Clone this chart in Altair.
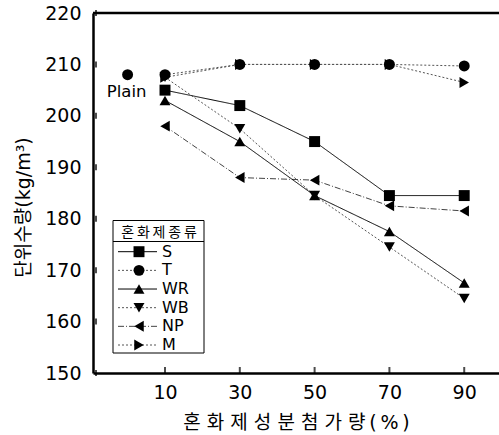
import altair as alt
import pandas as pd

x_vals = [10, 30, 50, 70, 90]
series_names = ["S", "T", "WR", "WB", "NP", "M"]
S = [205, 202, 195, 184.5, 184.5]
T = [208, 210, 210, 210, 209.7]
WR = [203, 195, 184.5, 177.5, 167.5]
WB = [207.5, 197.5, 184.5, 174.5, 164.5]
NP = [198, 188, 187.5, 182.5, 181.5]
M = [207.5, 210, 210, 210, 206.5]
plain_x = [0]
plain_y = [208]
plain_label = ["Plain"]
y_ticks = [150, 160, 170, 180, 190, 200, 210, 220]
x_ticks = [10, 30, 50, 70, 90]
legend_title = ["\u2009".join("혼화제종류")]

values = {"S": S, "T": T, "WR": WR, "WB": WB, "NP": NP, "M": M}
rows = []
for name in ["M", "NP", "WB", "WR", "S", "T"]:
    for xv, yv in zip(x_vals, values[name]):
        rows.append({"x": xv, "y": yv, "series": name})
df = pd.DataFrame(rows)
plain_df = pd.DataFrame({"x": plain_x, "y": plain_y, "label": plain_label})
leg_df = pd.DataFrame({"series": series_names, "row": list(range(len(series_names)))})
title_df = pd.DataFrame({"t": legend_title})

XDOM = [-9.25, 99.3]
YDOM = [150, 220]
xs = alt.Scale(domain=XDOM, nice=False, zero=False)
ys = alt.Scale(domain=YDOM, nice=False, zero=False)
row_scale = alt.Scale(domain=[0, 5], range=[238.7, 332], nice=False, zero=False)

NUM_FONT = "DejaVu Sans"
KR_FONT = "DejaVu Sans, Noto Sans CJK KR"

shape_scale = alt.Scale(
    domain=series_names,
    range=["square", "circle", "triangle-up", "triangle-down", "triangle-left", "triangle-right"],
)
dash_scale = alt.Scale(
    domain=series_names,
    range=[[1, 0], [2, 2], [1, 0], [2, 2], [6, 2, 1, 2], [2, 2]],
)
color_scale = alt.Scale(domain=series_names, range=["#000", "#555", "#000", "#555", "#444", "#555"])

TS = "\u2009"
x_title = " ".join("혼화제") + "  " + " ".join("성분") + "  " + " ".join("첨가량") + TS + TS.join("(%)")

x_axis = alt.Axis(
    values=x_ticks, ticks=False, domainWidth=2.5, domainColor="black", grid=False,
    labelFont=NUM_FONT, labelFontSize=19, labelColor="black", labelPadding=10,
    title=x_title, titleFont=KR_FONT, titleFontSize=19,
    titleFontWeight="normal", titleColor="black", titlePadding=11,
)
y_axis = alt.Axis(
    values=y_ticks, ticks=False, domainWidth=2.5, domainColor="black", grid=False,
    labelFont=NUM_FONT, labelFontSize=19, labelColor="black", labelPadding=12,
    title="단위수량(kg/m³)", titleFont=KR_FONT, titleFontSize=19, titleY=194,
    titleFontWeight="normal", titleColor="black", titlePadding=11,
)

base = alt.Chart(df)

lines = base.mark_line(strokeWidth=1).encode(
    x=alt.X("x:Q", scale=xs, axis=x_axis),
    y=alt.Y("y:Q", scale=ys, axis=y_axis),
    detail="series:N",
    strokeDash=alt.StrokeDash("series:N", scale=dash_scale, legend=None),
    color=alt.Color("series:N", scale=color_scale, legend=None),
)

points = base.mark_point(filled=True, opacity=1, color="black", size=120).encode(
    x=alt.X("x:Q", scale=xs),
    y=alt.Y("y:Q", scale=ys, axis=None),
    shape=alt.Shape("series:N", scale=shape_scale, legend=None),
)

plain_pt = alt.Chart(plain_df).mark_point(filled=True, opacity=1, color="black", size=120, shape="circle").encode(
    x=alt.X("x:Q", scale=xs), y=alt.Y("y:Q", scale=ys, axis=None)
)
plain_txt = alt.Chart(plain_df).mark_text(font=NUM_FONT, fontSize=16.5, dy=17, dx=-1, color="black").encode(
    x=alt.X("x:Q", scale=xs), y=alt.Y("y:Q", scale=ys, axis=None), text="label:N"
)

yt_df = pd.DataFrame({"v": y_ticks})
xt_df = pd.DataFrame({"v": x_ticks})
yticks = alt.Chart(yt_df).mark_tick(size=6, thickness=2, color="black").encode(
    y=alt.Y("v:Q", scale=ys, axis=None), x=alt.XDatum(XDOM[0], scale=xs), xOffset=alt.value(3)
)
xticks = alt.Chart(xt_df).mark_tick(size=6, thickness=2, color="black").encode(
    x=alt.X("v:Q", scale=xs), y=alt.YDatum(YDOM[0], scale=ys, axis=None), yOffset=alt.value(-3)
)
top_border = alt.Chart(plain_df).mark_rule(color="black", strokeWidth=2.5).encode(
    x=alt.XDatum(XDOM[0], scale=xs), x2=alt.datum(XDOM[1]), y=alt.YDatum(YDOM[1], scale=ys, axis=None)
)

# legend box (drawn from its own small table)
leg_box = alt.Chart(title_df).mark_rect(fill="white", stroke="black", strokeWidth=1).encode(
    x=alt.value(20), x2=alt.value(111), y=alt.value(207.5), y2=alt.value(340)
)
leg_sep = alt.Chart(title_df).mark_rule(color="black", strokeWidth=1).encode(
    x=alt.value(20), x2=alt.value(111), y=alt.value(228.5)
)
leg_title = alt.Chart(title_df).mark_text(font=KR_FONT, fontSize=14, color="black", baseline="middle").encode(
    x=alt.value(66), y=alt.value(219.5), text="t:N"
)
leg_base = alt.Chart(leg_df)
leg_lines = leg_base.mark_rule(strokeWidth=1).encode(
    x=alt.value(25), x2=alt.value(64),
    y=alt.Y("row:Q", scale=row_scale, axis=None),
    strokeDash=alt.StrokeDash("series:N", scale=dash_scale, legend=None),
    color=alt.Color("series:N", scale=color_scale, legend=None),
)
leg_pts = leg_base.mark_point(filled=True, opacity=1, color="black", size=120).encode(
    x=alt.value(46),
    y=alt.Y("row:Q", scale=row_scale, axis=None),
    shape=alt.Shape("series:N", scale=shape_scale, legend=None),
)
leg_lbl = leg_base.mark_text(font=NUM_FONT, fontSize=16, color="black", align="left", baseline="middle").encode(
    x=alt.value(69),
    y=alt.Y("row:Q", scale=row_scale, axis=None),
    text="series:N",
)

chart = alt.layer(
    lines, points, plain_pt, plain_txt, yticks, xticks, top_border,
    leg_box, leg_sep, leg_title, leg_lines, leg_pts, leg_lbl,
).resolve_scale(y="independent").properties(
    width=406, height=360,
    autosize=alt.AutoSizeParams(type="none"),
    padding={"left": 93, "top": 13, "right": 0, "bottom": 62},
    background="white",
).configure_view(stroke=None)

chart.save("out.html", embed_options={"renderer": "svg", "actions": False})
